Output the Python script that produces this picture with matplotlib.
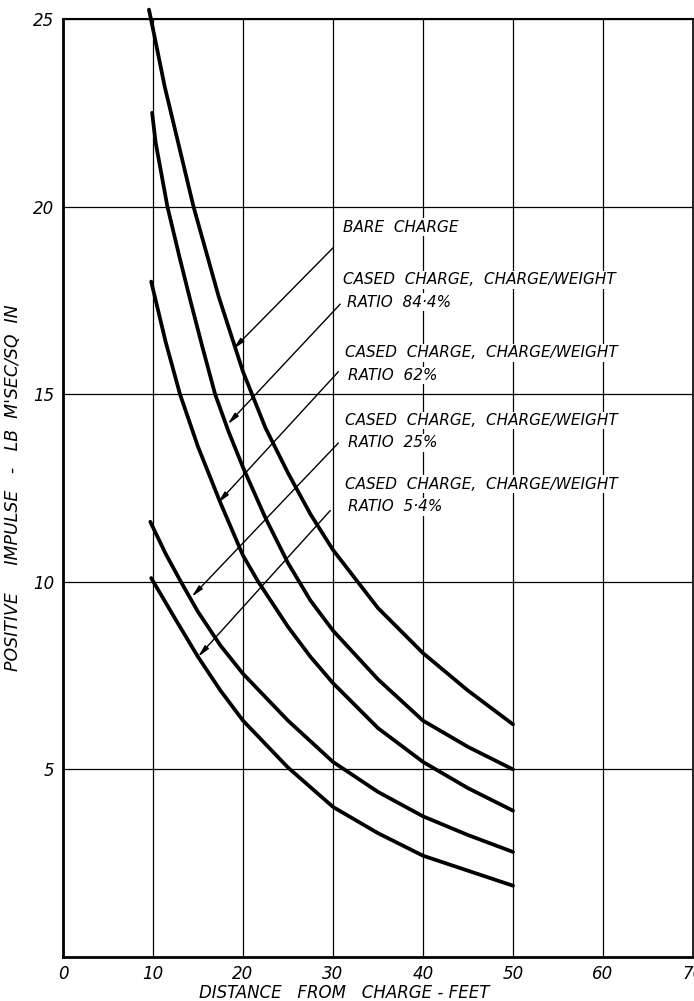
import matplotlib.pyplot as plt

# (distance in feet, impulse in lb m'sec/sq in)
bare_x = [9.55, 10.2, 11.3, 12.5, 14.5, 17.3, 20, 22.5, 25, 27.5, 30, 35, 40, 45, 50]
bare_y = [25.25, 24.5, 23.2, 22.0, 20.0, 17.6, 15.6, 14.1, 12.9, 11.8, 10.85, 9.3, 8.1, 7.1, 6.2]

r844_x = [9.9, 10.3, 11.6, 13.0, 14.2, 15.5, 16.9, 18.4, 20, 22.5, 25, 27.5, 30, 35, 40, 45, 50]
r844_y = [22.5, 21.7, 20.0, 18.6, 17.45, 16.25, 15.0, 14.0, 13.05, 11.7, 10.5, 9.5, 8.7, 7.4, 6.3, 5.6, 5.0]

r62_x = [9.8, 11.4, 13.0, 15, 17.5, 20, 21.7, 25, 27.5, 30, 35, 40, 45, 50]
r62_y = [18.0, 16.4, 15.0, 13.6, 12.1, 10.7, 10.0, 8.8, 8.0, 7.3, 6.1, 5.2, 4.5, 3.9]

r25_x = [9.7, 11.4, 13.1, 15, 17.5, 20, 25, 30, 35, 40, 45, 50]
r25_y = [11.6, 10.75, 10.0, 9.2, 8.3, 7.55, 6.3, 5.2, 4.4, 3.75, 3.25, 2.8]

r54_x = [9.8, 12.5, 15, 17.5, 20, 25, 30, 35, 40, 45, 50]
r54_y = [10.1, 9.0, 8.0, 7.1, 6.3, 5.05, 4.0, 3.3, 2.7, 2.3, 1.9]

x_ticks = [0, 10, 20, 30, 40, 50, 60, 70]
y_ticks = [0, 5, 10, 15, 20, 25]

# label text, arrow start (near text) and arrow tip (on curve)
labels = [
    ("BARE  CHARGE", None),
    ("CASED  CHARGE,  CHARGE/WEIGHT", "RATIO  84·4%"),
    ("CASED  CHARGE,  CHARGE/WEIGHT", "RATIO  62%"),
    ("CASED  CHARGE,  CHARGE/WEIGHT", "RATIO  25%"),
    ("CASED  CHARGE,  CHARGE/WEIGHT", "RATIO  5·4%"),
]
label_pos = [(31.1, 19.45), (31.1, 18.05), (31.3, 16.1), (31.3, 14.3), (31.3, 12.6)]
arrow_start = [(30.0, 18.9), (30.8, 17.4), (30.6, 15.6), (30.6, 13.7), (29.7, 11.9)]
arrow_tip = [(18.9, 16.2), (18.3, 14.2), (17.2, 12.1), (14.3, 9.6), (15.0, 8.0)]

fig = plt.figure(figsize=(6.94, 10.01), dpi=100)
ax = fig.add_axes([63 / 694, 44 / 1001, 630 / 694, 938 / 1001])

ax.set_xlim(0, 70)
ax.set_ylim(0, 25)
ax.set_xticks(x_ticks)
ax.set_yticks(y_ticks)
ax.set_xticklabels([str(v) for v in x_ticks], fontstyle="italic", fontsize=12)
ax.set_yticklabels(["" if v == 0 else str(v) for v in y_ticks], fontstyle="italic", fontsize=12)
ax.tick_params(length=0, pad=6)
ax.grid(True, color="black", linewidth=0.9)

ax.spines["left"].set_linewidth(2)
ax.spines["bottom"].set_linewidth(2)
ax.spines["top"].set_linewidth(1.5)
ax.spines["right"].set_linewidth(1.2)

for xs, ys in [(bare_x, bare_y), (r844_x, r844_y), (r62_x, r62_y), (r25_x, r25_y), (r54_x, r54_y)]:
    ax.plot(xs, ys, color="black", linewidth=2.7, solid_capstyle="round",
            solid_joinstyle="round", clip_on=False, zorder=3)

for (line1, line2), (lx, ly), st, tip in zip(labels, label_pos, arrow_start, arrow_tip):
    ax.text(lx, ly, line1, fontsize=11, fontstyle="italic", va="center", ha="left",
            bbox=dict(facecolor="white", edgecolor="none", pad=1), zorder=4)
    if line2:
        ax.text(lx + 0.4, ly - 0.6, line2, fontsize=11, fontstyle="italic", va="center", ha="left",
                bbox=dict(facecolor="white", edgecolor="none", pad=1), zorder=4)
    ax.annotate("", xy=tip, xytext=st,
                arrowprops=dict(arrowstyle="-|>,head_length=0.7,head_width=0.15",
                                color="black", lw=1.0, shrinkA=0, shrinkB=0), zorder=4)

ax.set_ylabel("POSITIVE     IMPULSE   -   LB  M'SEC/SQ  IN", fontsize=12.5, fontstyle="italic", labelpad=8)
ax.text(31.2, -0.95, "DISTANCE   FROM   CHARGE - FEET", fontsize=12, fontstyle="italic",
        ha="center", va="center")

plt.savefig("out.png", dpi=100)
